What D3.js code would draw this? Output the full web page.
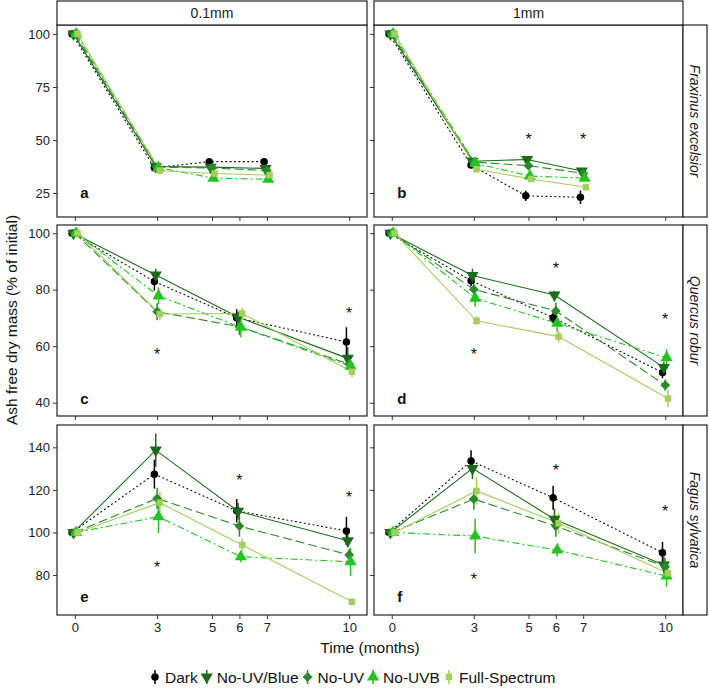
<!DOCTYPE html>
<html><head><meta charset="utf-8">
<script src="https://cdn.jsdelivr.net/npm/d3@7"></script>
<style>body{margin:0;background:#fff}svg{display:block;font-family:"Liberation Sans",Arial,sans-serif}</style>
</head><body><svg id="c" width="709" height="688"></svg>
<script>
// ---- data ----
const series = ["Dark","No-UV/Blue","No-UV","No-UVB","Full-Spectrum"];
const sizes = ["0.1mm","1mm"];
const species = ["Fraxinus excelsior","Quercus robur","Fagus sylvatica"];
const panelLetters = [["a","b"],["c","d"],["e","f"]];
const xTicks = [0,3,5,6,7,10];
const timesFraxinus = [0,3,5,7];
const timesQuercus = [0,3,6,10];
const timesFagus = [0,3,6,10];
const yTicksFraxinus = [25,50,75,100];
const yTicksQuercus = [40,60,80,100];
const yTicksFagus = [80,100,120,140];
const yDomainFraxinus = [13.7,104.2];
const yDomainQuercus = [35.3,102.9];
const yDomainFagus = [61.2,150.5];

// means [series][time]
const meanA = [[100,36.9,39.8,39.8],[100,37.5,37.2,36.6],[100,37.2,36.8,35.6],[100,37.0,32.0,31.5],[100,35.5,34.2,33.4]];
const errA  = [[0,1,1.2,1.2],[0,1,1,1],[0,1,1,1],[0,1,1,1],[0,1,1,1]];
const meanB = [[100,38.2,23.7,23.0],[100,40.0,40.8,35.4],[100,39.6,37.9,34.3],[100,39.0,33.0,32.0],[100,36.2,31.6,27.7]];
const errB  = [[0,1,2.4,3.2],[0,1,1,1.2],[0,1,1,1],[0,1,1,1],[0,1,1,1.2]];
const meanC = [[100,82.9,70.1,61.5],[100,85.2,70.3,55.7],[100,72.2,66.9,53.7],[100,77.8,66.7,53.0],[100,71.4,71.6,51.0]];
const errC  = [[0,3.2,3,5.2],[0,2.2,2,4],[0,3,3,2],[0,3,3.5,2],[0,2,2,2]];
const meanD = [[100,83.2,70.1,50.7],[100,85.0,78.1,52.5],[100,80.1,72.5,46.2],[100,77.0,68.1,55.9],[100,69.0,63.4,41.5]];
const errD  = [[0,2,2,2],[0,2.5,1.5,2],[0,3,3,2],[0,3,3,3],[0,1.5,2,3]];
const meanE = [[100,127.4,110.2,100.7],[100,138.7,110.0,96.1],[100,116.0,103.0,89.4],[100,107.4,88.6,86.2],[100,114.0,94.1,67.4]];
const errE  = [[0,6.8,5.5,6.6],[0,7.8,4,3],[0,5,5,3],[0,7.8,2.5,6.6],[0,5,3,1.5]];
const meanF = [[100,133.6,116.3,90.5],[100,130.1,106.2,84.7],[100,115.7,103.0,83.9],[100,98.3,91.7,79.5],[100,119.5,104.3,80.8]];
const errF  = [[0,5,5.6,5],[0,5,5,4],[0,5,5,4],[0,8.2,3,5],[0,6.5,5,3]];

// significance asterisks [time, y]
const starsA = [];
const starsB = [[5,53.2],[7,53.2]];
const starsC = [[3,59.2],[10,73.8]];
const starsD = [[3,59.2],[6,89.6],[10,71.6]];
const starsE = [[3,86.2],[6,127.4],[10,119.1]];
const starsF = [[3,80.5],[6,132.0],[10,112.9]];
const letterY = [25,41.5,70];

// ---- styling ----
const colors = ["#000000","#1b6b1b","#2a8a2a","#22c422","#a3cf5b"];
const dashes = ["1,3.4","none","9,4","7,3,2,3","none"];
const widths = [1.1,1.1,1.1,1.1,1.1];
const dodge = [-0.1,-0.05,0,0.05,0.1];
const symbolType = [d3.symbolCircle,d3.symbolTriangle,d3.symbolSquare,d3.symbolTriangle,d3.symbolSquare];
const symbolSize = [44,64,48,64,42];
const symbolRot = [0,180,45,0,0];

const rows = [
  {times:timesFraxinus, ticks:yTicksFraxinus, dom:yDomainFraxinus, means:[meanA,meanB], errs:[errA,errB], stars:[starsA,starsB]},
  {times:timesQuercus, ticks:yTicksQuercus, dom:yDomainQuercus, means:[meanC,meanD], errs:[errC,errD], stars:[starsC,starsD]},
  {times:timesFagus, ticks:yTicksFagus, dom:yDomainFagus, means:[meanE,meanF], errs:[errE,errF], stars:[starsE,starsF]}
];

const colX = [[57,367],[374,683]];
const rowY = [[25,217],[225,416],[425,615]];
const stripTop = 1, stripRight = 707;

const svg = d3.select("#c");

rows.forEach((row, ri) => {
  const y = d3.scaleLinear().domain(row.dom).range([rowY[ri][1], rowY[ri][0]]);
  colX.forEach((cx, ci) => {
    const x = d3.scaleLinear().domain([-0.65,10.65]).range(cx);
    const g = svg.append("g");
    const xa = g.append("g").attr("transform",`translate(0,${rowY[ri][1]})`)
      .call(d3.axisBottom(x).tickValues(xTicks).tickSize(4).tickSizeOuter(0).tickFormat(ri===2? d3.format("d") : ""));
    xa.select(".domain").remove();
    xa.selectAll("line").attr("stroke","#333");
    xa.selectAll("text").attr("font-size",13).attr("fill","#222").attr("dy","0.8em");
    const ya = g.append("g").attr("transform",`translate(${cx[0]},0)`)
      .call(d3.axisLeft(y).tickValues(row.ticks).tickSize(4).tickSizeOuter(0).tickFormat(ci===0? d3.format("d") : ""));
    ya.select(".domain").remove();
    ya.selectAll("line").attr("stroke","#333");
    ya.selectAll("text").attr("font-size",13).attr("fill","#222");

    const cid = `clip${ri}${ci}`;
    svg.append("clipPath").attr("id",cid).append("rect")
      .attr("x",cx[0]).attr("y",rowY[ri][0]).attr("width",cx[1]-cx[0]).attr("height",rowY[ri][1]-rowY[ri][0]);
    const pg = g.append("g").attr("clip-path",`url(#${cid})`);

    const means = row.means[ci], errs = row.errs[ci];
    series.forEach((s, si) => {
      const pts = row.times.map((t, ti) => [x(t + dodge[si]), y(means[si][ti])]);
      pg.append("path").attr("d", d3.line()(pts)).attr("fill","none")
        .attr("stroke",colors[si]).attr("stroke-width",widths[si])
        .attr("stroke-dasharray",dashes[si]).attr("stroke-linecap", si===0?"round":"butt");
    });
    series.forEach((s, si) => {
      row.times.forEach((t, ti) => {
        const e = errs[si][ti]; if (!e) return;
        pg.append("line").attr("x1",x(t+dodge[si])).attr("x2",x(t+dodge[si]))
          .attr("y1",y(means[si][ti]-e)).attr("y2",y(means[si][ti]+e))
          .attr("stroke",colors[si]).attr("stroke-width",1.5);
      });
    });
    series.forEach((s, si) => {
      row.times.forEach((t, ti) => {
        pg.append("path").attr("d", d3.symbol().type(symbolType[si]).size(symbolSize[si])())
          .attr("transform",`translate(${x(t+dodge[si])},${y(means[si][ti])}) rotate(${symbolRot[si]})`)
          .attr("fill",colors[si]);
      });
    });
    row.stars[ci].forEach(st => {
      g.append("text").attr("x",x(st[0])).attr("y",y(st[1])).attr("text-anchor","middle")
        .attr("dy","0.72em").attr("font-size",16).attr("fill","#111").text("*");
    });
    g.append("text").attr("x",x(0.2)).attr("y",y(letterY[ri])).attr("dy","0.35em")
      .attr("font-size",15).attr("font-weight","bold").attr("fill","#111").text(panelLetters[ri][ci]);
    g.append("rect").attr("x",cx[0]).attr("y",rowY[ri][0]).attr("width",cx[1]-cx[0]).attr("height",rowY[ri][1]-rowY[ri][0])
      .attr("fill","none").attr("stroke","#222").attr("stroke-width",1.2);

    if (ri===0) {
      g.append("rect").attr("x",cx[0]).attr("y",stripTop).attr("width",cx[1]-cx[0]).attr("height",rowY[0][0]-stripTop)
        .attr("fill","#fff").attr("stroke","#222").attr("stroke-width",1.2);
      g.append("text").attr("x",(cx[0]+cx[1])/2).attr("y",(stripTop+rowY[0][0])/2).attr("dy","0.36em")
        .attr("text-anchor","middle").attr("font-size",14).attr("fill","#1a1a1a").text(sizes[ci]);
    }
    if (ci===1) {
      g.append("rect").attr("x",cx[1]).attr("y",rowY[ri][0]).attr("width",stripRight-cx[1]).attr("height",rowY[ri][1]-rowY[ri][0])
        .attr("fill","#fff").attr("stroke","#222").attr("stroke-width",1.2);
      const mx = (cx[1]+stripRight)/2, my = (rowY[ri][0]+rowY[ri][1])/2;
      g.append("text").attr("transform",`translate(${mx},${my}) rotate(90)`).attr("dy","0.36em")
        .attr("text-anchor","middle").attr("font-size",14).attr("font-style","italic").attr("fill","#1a1a1a").text(species[ri]);
    }
  });
});

svg.append("text").attr("x",(colX[0][0]+colX[1][1])/2).attr("y",647).attr("dy","0.36em")
  .attr("text-anchor","middle").attr("font-size",15.5).attr("fill","#111").text("Time (months)");
svg.append("text").attr("transform",`translate(11,${(rowY[0][0]+rowY[2][1])/2}) rotate(-90)`).attr("dy","0.36em")
  .attr("text-anchor","middle").attr("font-size",15.5).attr("fill","#111").text("Ash free dry mass (% of initial)");

const lg = svg.append("g").attr("transform","translate(0,677)");
let lx = 155;
series.forEach((s, si) => {
  lg.append("line").attr("x1",lx).attr("x2",lx).attr("y1",-7).attr("y2",7).attr("stroke",colors[si]).attr("stroke-width",1.5);
  lg.append("path").attr("d", d3.symbol().type(symbolType[si]).size(symbolSize[si])())
    .attr("transform",`translate(${lx},0) rotate(${symbolRot[si]})`).attr("fill",colors[si]);
  const t = lg.append("text").attr("x",lx+10).attr("y",0).attr("dy","0.36em").attr("font-size",15.5).attr("fill","#111").text(s);
  lx += 10 + t.node().getComputedTextLength() + 9;
});
</script></body></html>
